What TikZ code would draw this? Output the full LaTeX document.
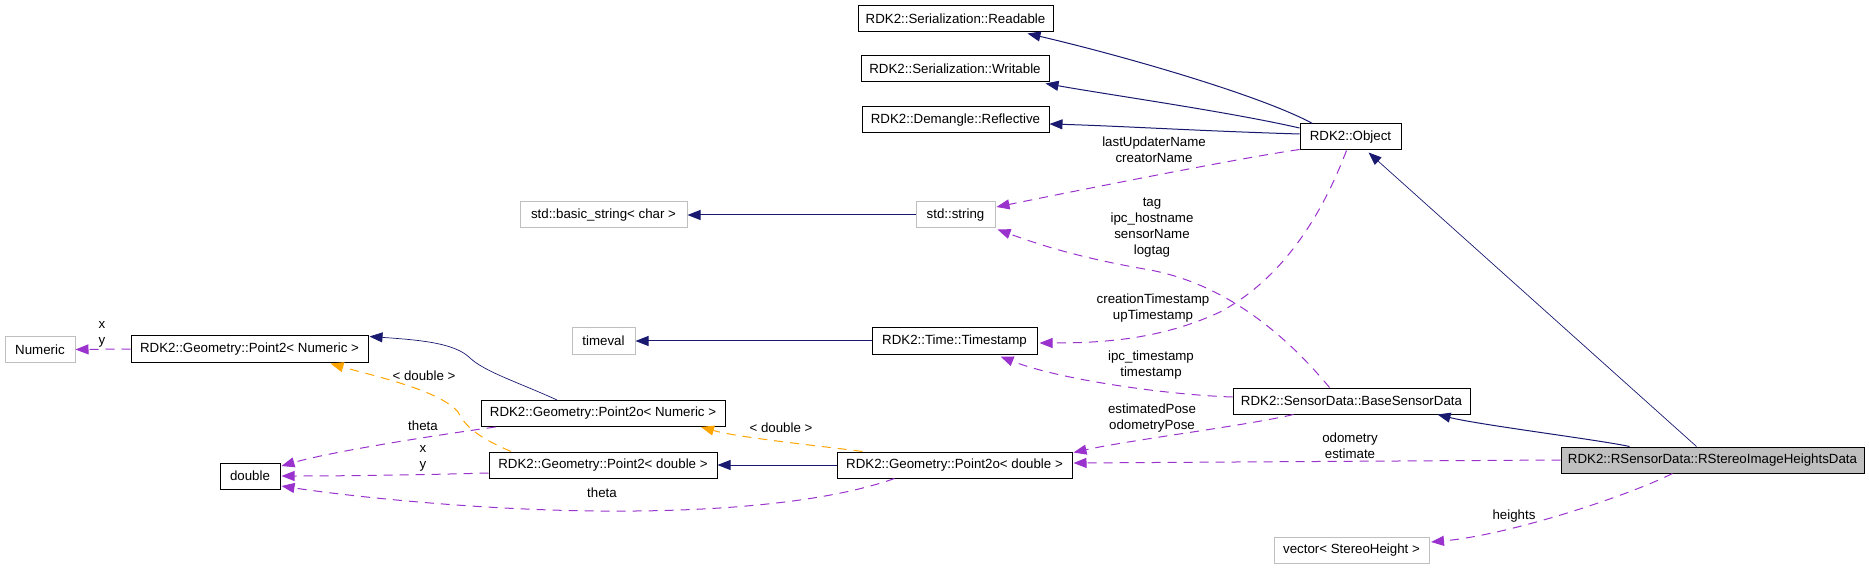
\documentclass[tikz,border=0pt]{standalone}
\usepackage{fontspec}
\setmainfont{Liberation Sans}
\usetikzlibrary{arrows.meta,calc}
\definecolor{inhc}{HTML}{191970}
\definecolor{usec}{HTML}{9A32CD}
\definecolor{tplc}{HTML}{FFA500}
\definecolor{extc}{HTML}{BFBFBF}
\begin{document}
\begin{tikzpicture}[x=1pt,y=-1pt,
  every node/.style={font=\fontsize{13.3}{16}\selectfont},
  cls/.style={draw=black, line width=1pt, minimum height=26pt, inner sep=0pt, anchor=center},
  ext/.style={cls, draw=extc},
  hl/.style={cls, fill=extc},
  inh/.style={draw=inhc, line width=1pt, -{Triangle[length=13pt,width=10pt]}},
  usg/.style={draw=usec, line width=1pt, dash pattern=on 9pt off 7pt, -{Triangle[length=13pt,width=10pt]}},
  tpl/.style={draw=tplc, line width=1pt, dash pattern=on 9pt off 7pt, -{Triangle[length=13pt,width=10pt]}},
  lbl/.style={align=center, inner sep=0pt}
]
\useasboundingbox (0,0) rectangle (1869,569);
% classes
\node[cls, minimum width=195pt] (readable) at (955.5,19) {RDK2::Serialization::Readable};
\node[cls, minimum width=188pt] (writable) at (955,69) {RDK2::Serialization::Writable};
\node[cls, minimum width=187pt] (reflective) at (955.5,120) {RDK2::Demangle::Reflective};
\node[cls, minimum width=101pt] (object) at (1350.5,137) {RDK2::Object};
\node[ext, minimum width=167pt] (basicstr) at (603.5,215) {std::basic\_string< char >};
\node[ext, minimum width=79pt] (stdstr) at (955.5,215) {std::string};
\node[ext, minimum width=70pt] (numeric) at (40,349.5) {Numeric};
\node[cls, minimum width=237pt] (p2num) at (249.5,349) {RDK2::Geometry::Point2< Numeric >};
\node[ext, minimum width=63pt] (timeval) at (603.5,341) {timeval};
\node[cls, minimum width=165pt] (timestamp) at (954.5,341) {RDK2::Time::Timestamp};
\node[cls, minimum width=237pt] (base) at (1351.5,401) {RDK2::SensorData::BaseSensorData};
\node[cls, minimum width=244pt] (p2onum) at (603,413.5) {RDK2::Geometry::Point2o< Numeric >};
\node[cls, minimum width=60pt] (dbl) at (250,476) {double};
\node[cls, minimum width=228pt] (p2dbl) at (603,465) {RDK2::Geometry::Point2< double >};
\node[cls, minimum width=235pt] (p2odbl) at (954.5,465) {RDK2::Geometry::Point2o< double >};
\node[hl, minimum width=303pt] (rstereo) at (1712.5,460) {RDK2::RSensorData::RStereoImageHeightsData};
\node[ext, minimum width=155pt] (vec) at (1351.5,550.5) {vector< StereoHeight >};
% inheritance
\draw[inh] ($(object.north west)+(13,0)$) .. controls (1260,95) and (1120,55) .. ($(readable.south)+(72,1)$);
\draw[inh] ($(object.west)+(0,-9)$) .. controls (1230,112) and (1110,95) .. ($(writable.south east)+(-4,1)$);
\draw[inh] ($(object.west)+(0,-3)$) .. controls (1200,131) and (1120,126) .. ($(reflective.east)+(0,4)$);
\draw[inh, line width=0.7pt] ($(rstereo.north)+(-16,0)$) -- ($(object.south east)+(-33,2)$);
\draw[inh] ($(rstereo.north)+(-83,0)$) .. controls (1600,440) and (1480,425) .. ($(base.south east)+(-33,0)$);
\draw[inh] (stdstr.west) -- (basicstr.east);
\draw[inh] (timestamp.west) -- (timeval.east);
\draw[inh] (p2odbl.west) -- (p2dbl.east);
\draw[inh, line width=0.7pt] ($(p2onum.north)+(-46,0)$) .. controls (520,383) and (485,372) .. (470,358) .. controls (455,343) and (420,340) .. ($(p2num.north east)+(1,1)$);
% template instances
\draw[tpl] ($(p2dbl.north)+(-92,0)$) .. controls (480,438) and (466,428) .. (458,412) .. controls (440,390) and (370,375) .. ($(p2num.south)+(81,1)$);
\node[lbl] (ltpl1) at (424,376) {< double >};
\draw[tpl] ($(p2odbl.north)+(-92,0)$) .. controls (830,447) and (740,438) .. ($(p2onum.south)+(98,0)$);
\node[lbl] (ltpl2) at (781,428) {< double >};
% usage
\draw[usg] (p2num.west) -- (numeric.east);
\node[lbl] (lxy1) at (102,334) {x\\y};
\draw[usg] ($(p2onum.south west)+(15,0)$) .. controls (430,436) and (330,452) .. ($(dbl.east)+(1,-10)$);
\node[lbl] (lth1) at (423,426) {theta};
\draw[usg] ($(p2dbl.west)+(0,8)$) .. controls (420,475) and (340,476) .. ($(dbl.east)+(1,0)$);
\node[lbl] (lxy2) at (423,458) {x\\y};
\draw[usg] ($(p2odbl.south west)+(58,0)$) .. controls (820,505) and (700,512) .. (600,511) .. controls (470,510) and (340,495) .. ($(dbl.east)+(1,10)$);
\node[lbl] (lth2) at (602,493) {theta};
\draw[usg] ($(object.south west)+(0,-1)$) .. controls (1240,158) and (1080,190) .. ($(stdstr.east)+(1,-8)$);
\node[lbl] (lname) at (1154,150) {lastUpdaterName\\creatorName};
\draw[usg] ($(base.north)+(-22,0)$) .. controls (1290,340) and (1230,285) .. (1150,270) .. controls (1080,258) and (1040,245) .. ($(stdstr.south east)+(2,1)$);
\node[lbl] (ltag) at (1152,228) {tag\\ipc\_hostname\\sensorName\\logtag};
\draw[usg] ($(object.south)+(-4,0)$) .. controls (1320,220) and (1280,280) .. (1220,312) .. controls (1160,340) and (1100,343) .. ($(timestamp.east)+(2,2)$);
\node[lbl] (lcts) at (1153,308) {creationTimestamp\\upTimestamp};
\draw[usg] ($(base.west)+(0,-4)$) .. controls (1170,395) and (1060,380) .. ($(timestamp.south)+(46,2)$);
\node[lbl] (lipc) at (1151,365) {ipc\_timestamp\\timestamp};
\draw[usg] ($(base.south west)+(61,0)$) .. controls (1250,425) and (1130,440) .. ($(p2odbl.north east)+(1,1)$);
\node[lbl] (lpose) at (1152,418) {estimatedPose\\odometryPose};
\draw[usg] (rstereo.west) -- ($(p2odbl.east)+(1,-2)$);
\node[lbl] (lodo) at (1350,446) {odometry\\estimate};
\draw[usg] ($(rstereo.south)+(-40,0)$) .. controls (1630,495) and (1510,535) .. ($(vec.east)+(1.5,-8.5)$);
\node[lbl] (lh) at (1514,516) {heights};
\end{tikzpicture}
\end{document}
